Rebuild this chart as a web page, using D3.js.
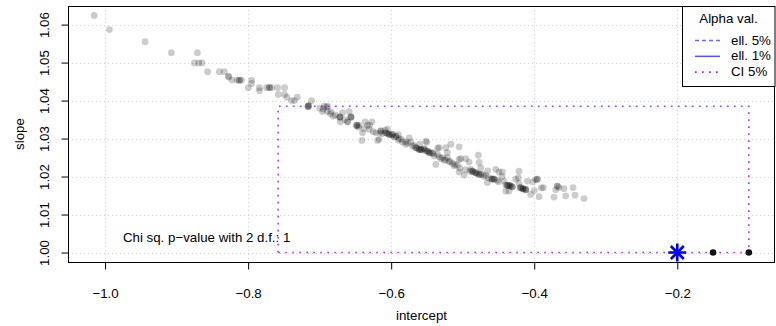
<!DOCTYPE html>
<html><head><meta charset="utf-8">
<script src="https://cdn.jsdelivr.net/npm/d3@7"></script>
<style>
body{margin:0;background:#fff}
svg{display:block;font-family:"Liberation Sans",Arial,Helvetica,sans-serif}
</style>
</head><body>
<svg id="c" width="776" height="326"></svg>
<script>
// ---- data (simulated intercept / slope estimates) ----
const intercepts = [
-1.0152,-0.9939,-0.9440,-0.9073,-0.8709,-0.8751,-0.8691,-0.8644,-0.8566,-0.8402,
-0.8332,-0.8277,-0.8270,-0.8225,-0.8155,-0.8123,-0.8091,-0.8120,-0.7951,-0.7951,
-0.7997,-0.7844,-0.7840,-0.7742,-0.7704,-0.7672,-0.7700,-0.7588,-0.7490,-0.7578,
-0.7490,-0.7457,-0.7392,-0.7313,-0.7351,-0.7159,-0.7159,-0.7152,-0.7113,-0.6936,
-0.6890,-0.6960,-0.6890,-0.6842,-0.6810,-0.6716,-0.6716,-0.6680,-0.6587,-0.6712,
-0.6610,-0.6610,-0.6563,-0.6563,-0.6479,-0.6479,-0.6447,-0.6363,-0.6270,-0.6331,
-0.6307,-0.6401,-0.6409,-0.6191,-0.6214,-0.6158,-0.6084,-0.6144,-0.6144,-0.6074,
-0.6074,-0.6028,-0.6028,-0.5982,-0.5982,-0.5934,-0.5934,-0.6168,-0.5888,-0.5842,
-0.5795,-0.5749,-0.5725,-0.5703,-0.5655,-0.5655,-0.5609,-0.5609,-0.5585,-0.5585,
-0.5539,-0.5539,-0.5516,-0.5493,-0.5493,-0.5469,-0.5469,-0.5423,-0.5399,-0.5353,
-0.5330,-0.5376,-0.5306,-0.5260,-0.5214,-0.5237,-0.5214,-0.5166,-0.5190,-0.5144,
-0.5106,-0.5050,-0.5074,-0.5027,-0.4957,-0.4911,-0.4887,-0.5050,-0.4980,-0.4865,
-0.4865,-0.4818,-0.4818,-0.4771,-0.4771,-0.4781,-0.4771,-0.4747,-0.4725,-0.4677,
-0.4641,-0.4655,-0.4585,-0.4585,-0.4561,-0.4561,-0.4538,-0.4492,-0.4445,-0.4515,
-0.4422,-0.4376,-0.4376,-0.4342,-0.4342,-0.4306,-0.4306,-0.4398,-0.4352,-0.4258,
-0.4212,-0.4222,-0.4212,-0.4189,-0.4189,-0.4156,-0.4156,-0.4119,-0.4119,-0.4096,
-0.4049,-0.4017,-0.3957,-0.3957,-0.3933,-0.3873,-0.3723,-0.3677,-0.3677,-0.3654,
-0.3584,-0.3560,-0.3458,-0.3430,-0.3304,
-0.7165,-0.6720,-0.6560,-0.6485,-0.6460,-0.6380,-0.6250,-0.6120,-0.6050,-0.6000,
-0.5960,-0.5900,-0.5860,-0.5800,-0.5770,-0.5680,-0.5630,-0.5570,-0.5520,-0.5450,
-0.5410,-0.5330,-0.5280,-0.5240,-0.5180,-0.5120,-0.5040,-0.4960,-0.4900,-0.4850,
-0.4800,-0.4750,-0.4700,-0.4600,-0.4500,-0.4400,-0.4360,-0.4320,-0.4200,-0.4160,
-0.4120,-0.4000,-0.3980,-0.6950,-0.6850,-0.6780,-0.6650,-0.7000,-0.5500,-0.5350,
-0.6300,-0.6050,-0.5050,-0.4650,-0.4450,-0.3900,-0.3700,-0.6900,-0.5900,-0.5600
];
const slopes = [
1.0624,1.0587,1.0555,1.0526,1.0526,1.0499,1.0499,1.0499,1.0476,1.0476,
1.0476,1.0464,1.0462,1.0454,1.0454,1.0454,1.0454,1.0453,1.0454,1.0445,
1.0434,1.0434,1.0426,1.0434,1.0434,1.0434,1.0435,1.0434,1.0434,1.0416,
1.0416,1.0409,1.0400,1.0409,1.0400,1.0385,1.0385,1.0387,1.0400,1.0385,
1.0385,1.0371,1.0371,1.0371,1.0359,1.0357,1.0357,1.0368,1.0371,1.0344,
1.0344,1.0344,1.0357,1.0357,1.0335,1.0335,1.0335,1.0344,1.0344,1.0335,
1.0324,1.0315,1.0295,1.0295,1.0315,1.0315,1.0322,1.0320,1.0320,1.0315,
1.0315,1.0311,1.0311,1.0311,1.0311,1.0306,1.0306,1.0298,1.0300,1.0291,
1.0285,1.0302,1.0291,1.0280,1.0276,1.0276,1.0271,1.0271,1.0271,1.0271,
1.0273,1.0273,1.0293,1.0267,1.0267,1.0263,1.0263,1.0263,1.0254,1.0258,
1.0276,1.0232,1.0247,1.0243,1.0250,1.0276,1.0263,1.0285,1.0239,1.0235,
1.0232,1.0278,1.0230,1.0247,1.0247,1.0238,1.0219,1.0212,1.0204,1.0214,
1.0214,1.0210,1.0210,1.0206,1.0206,1.0256,1.0237,1.0223,1.0206,1.0203,
1.0197,1.0184,1.0194,1.0194,1.0193,1.0193,1.0219,1.0212,1.0212,1.0190,
1.0188,1.0177,1.0177,1.0177,1.0177,1.0173,1.0173,1.0162,1.0162,1.0193,
1.0214,1.0197,1.0182,1.0171,1.0171,1.0168,1.0168,1.0166,1.0166,1.0188,
1.0153,1.0186,1.0193,1.0193,1.0147,1.0171,1.0146,1.0175,1.0175,1.0171,
1.0168,1.0149,1.0171,1.0151,1.0142,
1.0384,1.0356,1.0356,1.0334,1.0330,1.0326,1.0318,1.0313,1.0313,1.0309,
1.0304,1.0296,1.0298,1.0292,1.0288,1.0282,1.0274,1.0270,1.0268,1.0262,
1.0260,1.0252,1.0250,1.0244,1.0240,1.0228,1.0222,1.0218,1.0214,1.0212,
1.0208,1.0205,1.0200,1.0193,1.0186,1.0178,1.0176,1.0174,1.0170,1.0167,
1.0165,1.0163,1.0192,1.0378,1.0365,1.0362,1.0350,1.0380,1.0290,1.0275,
1.0335,1.0325,1.0245,1.0215,1.0200,1.0170,1.0165,1.0383,1.0310,1.0285
];
const refIntercepts = [-0.15, -0.1];
const refSlopes = [1.0, 1.0];
const trueIntercept = [-0.2];
const trueSlope = [1.0];
const ciIntercept = [-0.758, -0.1];
const ciSlope = [1.0, 1.0385];
const xTicks = [-1.0, -0.8, -0.6, -0.4, -0.2];
const yTicks = [1.00, 1.01, 1.02, 1.03, 1.04, 1.05, 1.06];
const legendTitle = "Alpha val.";
const legendLabels = ["ell. 5%", "ell. 1%", "CI 5%"];
const chiLabel = "Chi sq. p\u2212value with 2 d.f.: 1";
const chiAt = [-0.858, 1.004];
const xLabel = "intercept", yLabel = "slope";

// ---- layout ----
const m = {l:68, t:6, r:775, b:262};
const FS = 13.3;
const svg = d3.select('#c');
function pad(e){const d=(e[1]-e[0])*0.04;return [e[0]-d,e[1]+d];}
const x = d3.scaleLinear()
  .domain(pad(d3.extent(intercepts.concat(refIntercepts, trueIntercept))))
  .range([m.l, m.r]);
const y = d3.scaleLinear()
  .domain(pad(d3.extent(slopes.concat(refSlopes, trueSlope))))
  .range([m.b, m.t]);

// grid
const grid = svg.append('g').attr('stroke','#d3d3d3').attr('stroke-dasharray','1,3');
grid.selectAll('line.v').data(xTicks).join('line').attr('class','v')
  .attr('x1',d=>Math.round(x(d))+0.5).attr('x2',d=>Math.round(x(d))+0.5)
  .attr('y1',m.t).attr('y2',m.b);
grid.selectAll('line.h').data(yTicks).join('line').attr('class','h')
  .attr('y1',d=>Math.round(y(d))+0.5).attr('y2',d=>Math.round(y(d))+0.5)
  .attr('x1',m.l).attr('x2',m.r);

// points
svg.append('g').selectAll('circle').data(intercepts.map((v,i)=>[v,slopes[i]]))
  .join('circle').attr('cx',d=>x(d[0])).attr('cy',d=>y(d[1])).attr('r',3.4)
  .attr('fill','rgba(0,0,0,0.2)');

// CI rectangle
const ciPath = d3.path();
ciPath.moveTo(x(ciIntercept[0]), y(ciSlope[0]));
ciPath.lineTo(x(ciIntercept[0]), y(ciSlope[1]));
ciPath.lineTo(x(ciIntercept[1]), y(ciSlope[1]));
ciPath.lineTo(x(ciIntercept[1]), y(ciSlope[0]));
ciPath.closePath();
svg.append('path').attr('d', ciPath.toString()).attr('fill','none')
  .attr('stroke','#a020f0').attr('stroke-width',1.7).attr('stroke-dasharray','1.7,5.3')
  .attr('stroke-opacity',0.85);

// reference points
svg.append('g').selectAll('circle').data(refIntercepts.map((v,i)=>[v,refSlopes[i]]))
  .join('circle').attr('cx',d=>x(d[0])).attr('cy',d=>y(d[1])).attr('r',3.3)
  .attr('fill','#111');

// true value star (asterisk)
const R = 9;
const star = svg.append('g').attr('stroke','#0000ff').attr('stroke-width',2.6)
  .attr('transform',`translate(${x(trueIntercept[0])},${y(trueSlope[0])})`);
[[-R,0,R,0],[0,-R,0,R],[-R*0.72,-R*0.72,R*0.72,R*0.72],[-R*0.72,R*0.72,R*0.72,-R*0.72]]
  .forEach(s=>star.append('line').attr('x1',s[0]).attr('y1',s[1]).attr('x2',s[2]).attr('y2',s[3]));

// chi text
svg.append('text').attr('x',x(chiAt[0])).attr('y',y(chiAt[1])).attr('dy','0.35em')
  .attr('text-anchor','middle').attr('font-size',FS).text(chiLabel);

// frame
svg.append('rect').attr('x',m.l+0.5).attr('y',m.t+0.5).attr('width',m.r-m.l-1).attr('height',m.b-m.t)
  .attr('fill','none').attr('stroke','#000');

// x axis
const xa = svg.append('g').attr('transform',`translate(0,${m.b+0.5})`)
  .call(d3.axisBottom(x).tickValues(xTicks).tickSize(7).tickPadding(19)
    .tickFormat(d3.format('.1f')));
xa.select('.domain').remove();
xa.selectAll('text').attr('font-size',FS).attr('font-family',null).attr('fill','#000');
xa.selectAll('line').attr('stroke','#000');

// y axis
const ya = svg.append('g').attr('transform',`translate(${m.l+0.5},0)`)
  .call(d3.axisLeft(y).tickValues(yTicks).tickSize(7).tickFormat(d3.format('.2f')));
ya.select('.domain').remove();
ya.selectAll('line').attr('stroke','#000');
ya.selectAll('text').attr('font-size',FS).attr('font-family',null).attr('fill','#000')
  .attr('x',null).attr('dy',null).attr('text-anchor','middle')
  .attr('transform','translate(-20,0) rotate(-90)');

// axis titles
svg.append('text').attr('x',(m.l+m.r)/2).attr('y',320).attr('text-anchor','middle')
  .attr('font-size',FS).text(xLabel);
svg.append('text').attr('transform',`translate(24,${(m.t+m.b)/2}) rotate(-90)`)
  .attr('text-anchor','middle').attr('font-size',FS).text(yLabel);

// legend
const lg = svg.append('g');
lg.append('rect').attr('x',682.5).attr('y',m.t+0.5).attr('width',m.r-682.5).attr('height',80)
  .attr('fill','#fff').attr('stroke','#000');
lg.append('text').attr('x',(682+m.r)/2).attr('y',23).attr('text-anchor','middle')
  .attr('font-size',FS).text(legendTitle);
const styles = [
  {c:'#6a6aff', w:1.3, da:'4,3'},
  {c:'#5050ff', w:1.4, da:null},
  {c:'#a020f0', w:1.7, da:'1.7,5.3'}
];
legendLabels.forEach((t,i)=>{
  const by = 44.5 + i*15.8;
  lg.append('line').attr('x1',695).attr('x2',720).attr('y1',by-4).attr('y2',by-4)
    .attr('stroke',styles[i].c).attr('stroke-width',styles[i].w)
    .attr('stroke-dasharray',styles[i].da);
  lg.append('text').attr('x',731).attr('y',by).attr('font-size',FS).text(t);
});
</script>
</body></html>
